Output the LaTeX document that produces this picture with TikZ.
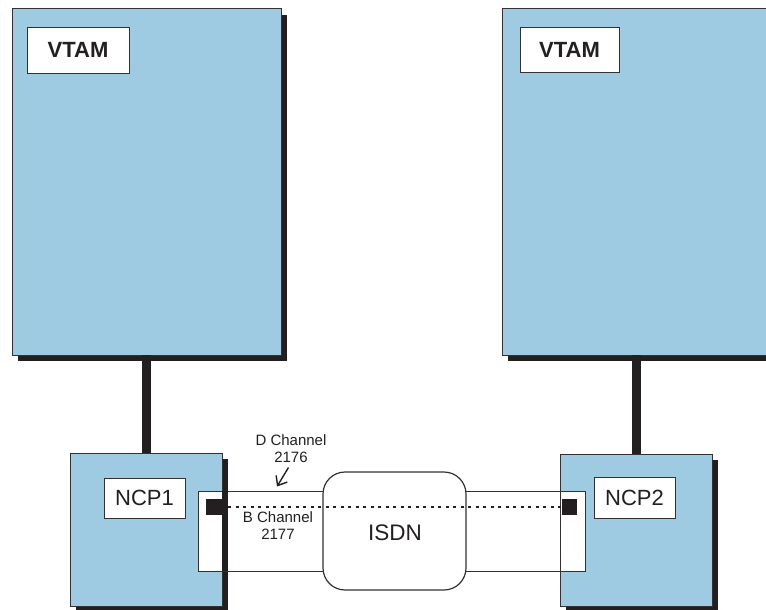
\documentclass[tikz,border=0pt]{standalone}
\usepackage{fontspec}
\setmainfont{Liberation Sans}
\usetikzlibrary{shadows,arrows.meta}
\definecolor{boxblue}{RGB}{158,203,226}
\definecolor{edge}{RGB}{50,50,50}
\definecolor{ink}{RGB}{35,31,32}
\tikzset{
  hostbox/.style={draw=edge, line width=1pt, fill=boxblue, inner sep=0pt, outer sep=0pt,
    general shadow={fill=ink, shadow xshift=6pt, shadow yshift=-6pt}},
  labelbox/.style={draw=edge, line width=0.9pt, fill=white, inner sep=0pt, outer sep=0pt},
  link/.style={ink, line width=9pt},
  chanbox/.style={draw=edge, line width=0.9pt, fill=white, inner sep=0pt, outer sep=0pt},
  port/.style={fill=ink, draw=none, inner sep=0pt, outer sep=0pt},
  small/.style={font=\fontsize{15}{17}\selectfont, align=center, text=ink},
}
\begin{document}
\begin{tikzpicture}[x=1pt,y=-1pt]
\useasboundingbox (0,0) rectangle (766,610);
\begin{scope}
\clip (0,0) rectangle (766,610);
% hosts
\node[hostbox, minimum width=269pt, minimum height=346pt] (vtam1) at (146.5,182) {};
\node[hostbox, minimum width=269pt, minimum height=346pt] (vtam2) at (636.5,182) {};
\node[labelbox, minimum width=102pt, minimum height=46pt, font=\fontsize{22}{24}\selectfont\bfseries, text=ink] (vl1) at (78,50) {VTAM};
\node[labelbox, minimum width=99pt, minimum height=45pt, font=\fontsize{22}{24}\selectfont\bfseries, text=ink] (vl2) at (569.5,49.5) {VTAM};
% NCP boxes
\node[hostbox, minimum width=152pt, minimum height=153pt] (ncp1) at (146,529.5) {};
\node[hostbox, minimum width=152pt, minimum height=152pt] (ncp2) at (636,530) {};
% links
\draw[link] (vtam1.south) -- (vtam1.south |- ncp1.north);
\draw[link] (vtam2.south) -- (vtam2.south |- ncp2.north);
% channel
\node[chanbox, minimum width=387pt, minimum height=80pt] (chan) at (391.5,531) {};
% redraw NCP1 shadow over channel and NCP2 left edge
\fill[ink] (ncp1.north east |- chan.north) rectangle ([xshift=6pt]ncp1.east |- chan.south);
\draw[edge, line width=1pt] (ncp2.west |- chan.north) -- (ncp2.west |- chan.south);
% ISDN cloud
\node[draw=edge, line width=1.2pt, fill=white, rounded corners=22pt, inner sep=0pt,
  minimum width=143pt, minimum height=118pt] (isdn) at (394.5,531) {};
\node[font=\fontsize{22.5}{24}\selectfont, text=ink] (isdnt) at (395,533) {ISDN};
% ports
\node[port, minimum width=16pt, minimum height=16pt] (p1) at (214,507) {};
\node[port, minimum width=15pt, minimum height=16pt] (p2) at (569.5,507) {};
\draw[ink, line width=1.3pt, dash pattern=on 3pt off 4.5pt] ([xshift=6pt]p1.east) -- (p2.west);
% labels inside NCP
\node[labelbox, minimum width=81pt, minimum height=40pt, font=\fontsize{22}{24}\selectfont, text=ink] (nl1) at (144.5,498) {NCP1};
\node[labelbox, minimum width=81pt, minimum height=41pt, font=\fontsize{22}{24}\selectfont, text=ink] (nl2) at (634.5,497.5) {NCP2};
% channel labels
\node[small] (dch) at (291,449) {D Channel\\2176};
\node[small] (bch) at (278,526) {B Channel\\2177};
\coordinate (a1) at (288.5,467.5);
\coordinate (a2) at (277,486.5);
\draw[ink, line width=1.4pt, -{Straight Barb[length=8pt,width=13pt,line width=1.4pt]}] (a1) -- (a2);
\end{scope}
\end{tikzpicture}
\end{document}
